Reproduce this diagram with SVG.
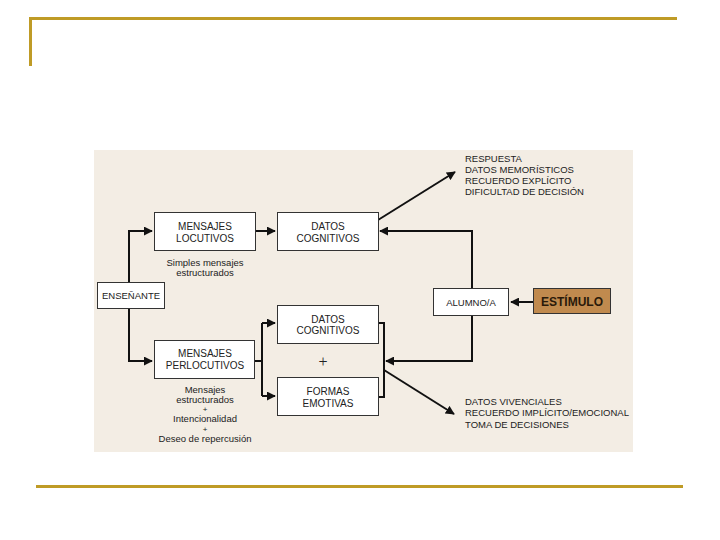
<svg xmlns="http://www.w3.org/2000/svg" width="720" height="540" viewBox="0 0 720 540">
<defs>
<style>
.frame{stroke:#BF9B26;stroke-width:3;fill:none}
.box{fill:#fff;stroke:#333;stroke-width:1}
.t{font-family:"Liberation Sans",Arial,sans-serif;font-size:9.5px;fill:#222;text-anchor:middle}
.b{font-size:10px}
.p{font-size:8px}
.tl{font-family:"Liberation Sans",Arial,sans-serif;font-size:9.5px;fill:#222}
.c{stroke:#111;stroke-width:2;fill:none}
</style>
<marker id="ah" viewBox="0 0 10 10" refX="9" refY="5" markerWidth="4.5" markerHeight="4.5" markerUnits="strokeWidth" orient="auto">
<path d="M0,0 L10,5 L0,10 z" fill="#111"/>
</marker>
</defs>
<rect width="720" height="540" fill="#fff"/>
<path class="frame" d="M30.5,66 V18.5 H677"/>
<line class="frame" x1="36" y1="486.5" x2="683" y2="486.5"/>
<rect x="94" y="150" width="539" height="302" fill="#F3EDE4"/>

<g id="connectors">
<path class="c" d="M129,282 V231 H152" marker-end="url(#ah)"/>
<path class="c" d="M129,308 V361 H152" marker-end="url(#ah)"/>
<path class="c" d="M255,231 H275" marker-end="url(#ah)"/>
<path class="c" d="M255,361 H262"/>
<path class="c" d="M262,323 V396"/>
<path class="c" d="M262,323 H275" marker-end="url(#ah)"/>
<path class="c" d="M262,396 H275" marker-end="url(#ah)"/>
<path class="c" d="M472,288 V231 H380" marker-end="url(#ah)"/>
<path class="c" d="M378,323 H384 V397 H378"/>
<path class="c" d="M472,315 V361 H386" marker-end="url(#ah)"/>
<path class="c" d="M533,302 H511" marker-end="url(#ah)"/>
<path class="c" d="M378,220 L455,172" marker-end="url(#ah)"/>
<path class="c" d="M384,370 L454,414" marker-end="url(#ah)"/>
</g>

<g id="ensenante">
<rect class="box" x="97.5" y="282.5" width="67" height="26"/>
<text class="t" x="131" y="299">ENSEÑANTE</text>
</g>
<g id="mensajes-locutivos">
<rect class="box" x="154.5" y="212.5" width="101" height="38"/>
<text class="t b" x="205" y="230">MENSAJES</text>
<text class="t b" x="205" y="242">LOCUTIVOS</text>
<text class="t" x="205" y="266">Simples mensajes</text>
<text class="t" x="205" y="276">estructurados</text>
</g>
<g id="datos-cognitivos-1">
<rect class="box" x="277.5" y="212.5" width="101" height="38"/>
<text class="t b" x="328" y="230">DATOS</text>
<text class="t b" x="328" y="242">COGNITIVOS</text>
</g>
<g id="mensajes-perlocutivos">
<rect class="box" x="154.5" y="340.5" width="100" height="38"/>
<text class="t b" x="205" y="357">MENSAJES</text>
<text class="t b" x="205" y="369">PERLOCUTIVOS</text>
<text class="t" x="205" y="393">Mensajes</text>
<text class="t" x="205" y="403">estructurados</text>
<text class="t p" x="205" y="412">+</text>
<text class="t" x="205" y="422">Intencionalidad</text>
<text class="t p" x="205" y="431.5">+</text>
<text class="t" x="205" y="442">Deseo de repercusión</text>
</g>
<g id="datos-cognitivos-2">
<rect class="box" x="277.5" y="305.5" width="101" height="38"/>
<text class="t b" x="328" y="323">DATOS</text>
<text class="t b" x="328" y="334">COGNITIVOS</text>
</g>
<text class="t" x="323" y="367" style="font-size:16px;font-family:'Liberation Serif',serif">+</text>
<g id="formas-emotivas">
<rect class="box" x="277.5" y="377.5" width="101" height="38"/>
<text class="t b" x="328" y="395">FORMAS</text>
<text class="t b" x="328" y="407">EMOTIVAS</text>
</g>
<g id="alumno">
<rect class="box" x="433.5" y="288.5" width="75" height="27"/>
<text class="t" x="471" y="306">ALUMNO/A</text>
</g>
<g id="estimulo">
<rect x="533.5" y="288.5" width="77" height="25" fill="#C08A4E" stroke="#333" stroke-width="1"/>
<text class="t" x="572" y="306" style="font-size:12px;font-weight:bold;fill:#2a1a0a">ESTÍMULO</text>
</g>
<g id="resultados-1">
<text class="tl" x="465" y="162">RESPUESTA</text>
<text class="tl" x="465" y="173">DATOS MEMORÍSTICOS</text>
<text class="tl" x="465" y="184">RECUERDO EXPLÍCITO</text>
<text class="tl" x="465" y="195">DIFICULTAD DE DECISIÓN</text>
</g>
<g id="resultados-2">
<text class="tl" x="465" y="405">DATOS VIVENCIALES</text>
<text class="tl" x="465" y="416">RECUERDO IMPLÍCITO/EMOCIONAL</text>
<text class="tl" x="465" y="428">TOMA DE DECISIONES</text>
</g>
</svg>
